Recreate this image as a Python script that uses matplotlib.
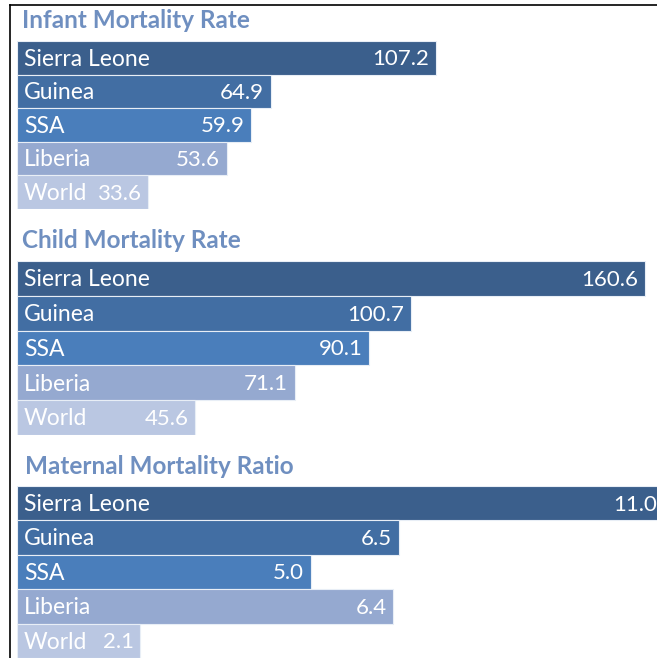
import matplotlib
matplotlib.use("Agg")
import matplotlib.pyplot as plt
from matplotlib.lines import Line2D

plt.rcParams['font.family'] = ['Lato', 'DejaVu Sans']

countries = ["Sierra Leone", "Guinea", "SSA", "Liberia", "World"]
infant = [107.2, 64.9, 59.9, 53.6, 33.6]
child = [160.6, 100.7, 90.1, 71.1, 45.6]
maternal = [11.0, 6.5, 5.0, 6.4, 2.1]
titles = ["Infant Mortality Rate", "Child Mortality Rate", "Maternal Mortality Ratio"]

colors = ["#3B5F8C", "#426EA3", "#4A7EBB", "#95A9D0", "#BAC7E2"]
title_color = "#6F8FC0"

W, H = 657, 658
fig = plt.figure(figsize=(W / 100, H / 100), dpi=100)


def px_rect(x0, y0, x1, y1):
    return [x0 / W, 1 - y1 / H, (x1 - x0) / W, (y1 - y0) / H]


# (values, top px, bottom px, xmax in data units, title y px, title x px)
panels = [
    (infant, 41, 209, 641 / 3.91, 20, 22),
    (child, 261, 435, 641 / 3.91, 241, 22),
    (maternal, 486, 658, 641 / 58.8, 467, 25),
]

for (vals, top, bot, xmax, ty, tx), title in zip(panels, titles):
    ax = fig.add_axes(px_rect(17, top, 658, bot))
    ypos = range(len(vals))
    ax.barh(ypos, vals, height=1.0, color=colors, edgecolor="#E8EEF6", linewidth=0.8)
    ax.set_xlim(0, xmax)
    ax.set_ylim(len(vals) - 0.5, -0.5)
    ax.axis("off")
    for i, (name, v) in enumerate(zip(countries, vals)):
        ax.annotate(name, (0, i), xytext=(5, -1), textcoords="offset points",
                    ha="left", va="center", color="white", fontsize=16.5)
        ax.annotate(f"{v:.1f}", (v, i), xytext=(-5, -1), textcoords="offset points",
                    ha="right", va="center", color="white", fontsize=16,
                    annotation_clip=False)
    fig.text(tx / W, 1 - ty / H, title, ha="left", va="center",
             color=title_color, fontsize=17.5, fontweight="bold")

# frame lines (top and left)
fig.add_artist(Line2D([10 / W, 1], [1 - 5 / H, 1 - 5 / H], color="black", lw=1.2))
fig.add_artist(Line2D([10 / W, 10 / W], [1 - 5 / H, 0], color="black", lw=1.2))

fig.savefig("out.png", dpi=100)
